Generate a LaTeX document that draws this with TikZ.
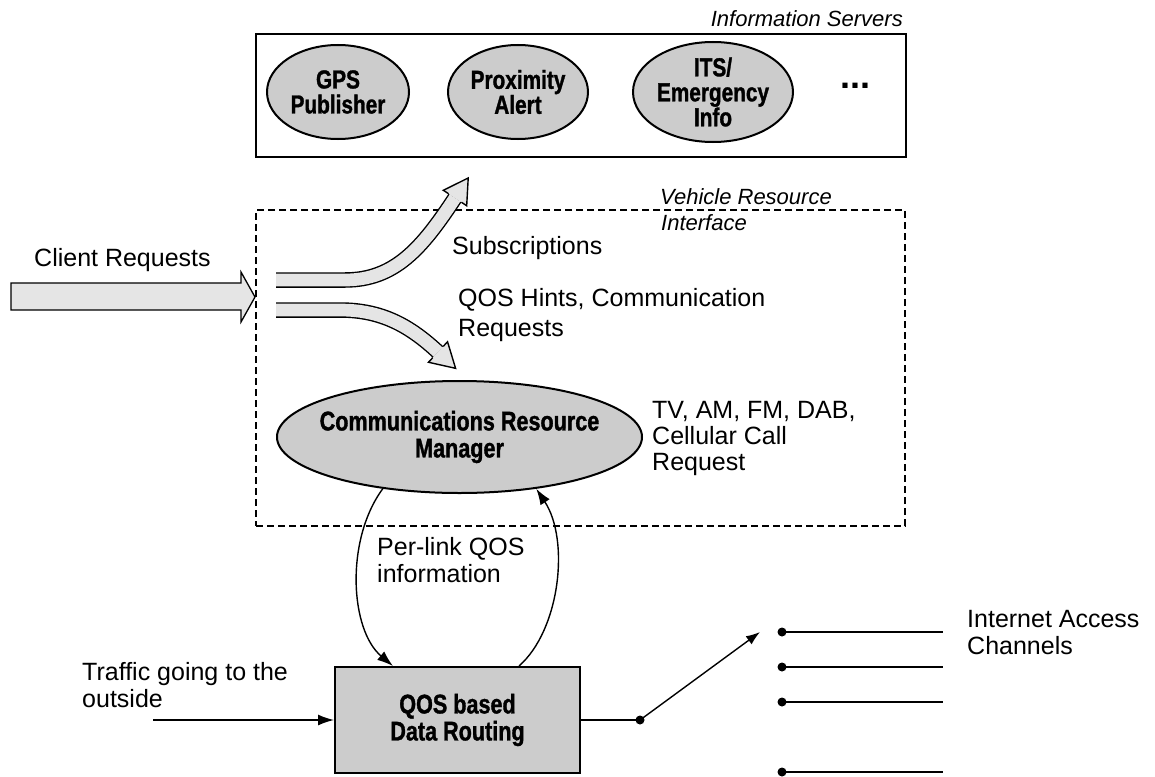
\documentclass[tikz,border=0pt]{standalone}
\usepackage{fontspec}
\setmainfont{Liberation Sans}
\newfontfamily\condfont{Liberation Sans}[FakeStretch=0.8, BoldFeatures={FakeBold=1.2}]
\usetikzlibrary{arrows.meta,calc,shapes.geometric}
\definecolor{shade}{gray}{0.80}
\definecolor{arrowfill}{gray}{0.90}
\begin{document}
\begin{tikzpicture}[x=1pt,y=-1pt,
  lbl/.style={font=\fontsize{25}{27}\selectfont, align=left, inner sep=0pt},
  ital/.style={font=\fontsize{22}{25}\selectfont\itshape, inner sep=0pt},
  boldtxt/.style={font=\condfont\bfseries\fontsize{27}{27}\selectfont, align=center},
  server/.style={ellipse, draw, line width=2pt, fill=shade, inner sep=0pt, boldtxt},
  frame/.style={draw, line width=2pt, inner sep=0pt},
  dashframe/.style={draw, line width=2pt, dash pattern=on 7pt off 4pt, inner sep=0pt},
  flow/.style={line width=1.4pt, -{Latex[length=16pt,width=11pt]}},
  wire/.style={line width=1.4pt},
  blk/.style={fill=arrowfill, draw, line width=1.3pt, line join=miter},
  dot/.style={circle, fill, inner sep=0pt, minimum size=9pt},
]
\useasboundingbox (0,0) rectangle (1155,776);

% ---- information servers ----
\node[frame, minimum width=650pt, minimum height=123pt, anchor=north west] (servers) at (255,33) {};
\node[ital, anchor=base east] (servlbl) at (903,27) {Information Servers};
\node[server, minimum width=142pt, minimum height=94pt, font=\condfont\bfseries\fontsize{26}{25}\selectfont] (gps) at (338,92) {GPS\\Publisher};
\node[server, minimum width=140pt, minimum height=94pt, font=\condfont\bfseries\fontsize{26}{25}\selectfont] (prox) at (518,92) {Proximity\\Alert};
\node[server, minimum width=160pt, minimum height=100pt, font=\condfont\bfseries\fontsize{26}{25}\selectfont] (its) at (713,92) {ITS/\\Emergency\\Info};
\node[font=\bfseries\fontsize{36}{36}\selectfont] (more) at (855,86) {...};

% ---- vehicle resource interface ----
\node[dashframe, minimum width=649pt, minimum height=316pt, anchor=north west] (vri) at (255,209) {};
\node[ital, anchor=base west] (vrilbl) at (660,204) {Vehicle Resource};
\node[ital, anchor=base west] (vrilbl2) at (661,230) {Interface};

% client requests (block arrow)
\node[lbl, anchor=west] (clientlbl) at (34,260) {Client Requests};
\draw[blk] (11,283) -- (241,283) -- (241,272) -- (255,297) -- (241,322) -- (241,310) -- (11,310) -- cycle;

% subscriptions (hollow curved arrow going up)
\coordinate (s0) at (276,280);
\coordinate (s1) at (345,280);
\coordinate (sc1) at (395,280);
\coordinate (sc2) at (422,248);
\coordinate (send) at (455,198);
\draw[line width=15.5pt] (s0) -- (s1) .. controls (sc1) and (sc2) .. (send);
\draw[line width=12.7pt, arrowfill] (s0) -- (s1) .. controls (sc1) and (sc2) .. (send);
\coordinate (sL) at ($(send)!14pt!90:(sc2)$);
\coordinate (sR) at ($(send)!14pt!-90:(sc2)$);
\coordinate (sbL) at ($(send)!7.75pt!90:(sc2)$);
\coordinate (sbR) at ($(send)!7.75pt!-90:(sc2)$);
\coordinate (sTip) at ($(send)!-24pt!(sc2)$);
\fill[arrowfill] (sL) -- (sTip) -- (sR) -- cycle;
\draw[line width=1.4pt, line join=miter] (sbL) -- (sL) -- (sTip) -- (sR) -- (sbR);
\node[lbl, anchor=west] (sublbl) at (452,248) {Subscriptions};

% hints and requests (hollow curved arrow going down)
\coordinate (t0) at (276,310);
\coordinate (t1) at (340,310);
\coordinate (tc1) at (382,310);
\coordinate (tc2) at (410,326);
\coordinate (tend) at (438,352);
\draw[line width=15.5pt] (t0) -- (t1) .. controls (tc1) and (tc2) .. (tend);
\draw[line width=12.7pt, arrowfill] (t0) -- (t1) .. controls (tc1) and (tc2) .. (tend);
\coordinate (tL) at ($(tend)!14pt!90:(tc2)$);
\coordinate (tR) at ($(tend)!14pt!-90:(tc2)$);
\coordinate (tbL) at ($(tend)!7.75pt!90:(tc2)$);
\coordinate (tbR) at ($(tend)!7.75pt!-90:(tc2)$);
\coordinate (tTip) at ($(tend)!-24pt!(tc2)$);
\fill[arrowfill] (tL) -- (tTip) -- (tR) -- cycle;
\draw[line width=1.4pt, line join=miter] (tbL) -- (tL) -- (tTip) -- (tR) -- (tbR);
\node[lbl, anchor=west, font=\fontsize{25}{30}\selectfont] (hintlbl) at (458,315) {QOS Hints, Communication\\Requests};

% communications resource manager (shape sized by hand, text placed on top)
\node[ellipse, draw, line width=2pt, fill=shade, inner sep=0pt, minimum width=365pt, minimum height=112pt] (crm) at (459.5,437) {};
\node[boldtxt] (crmtxt) at (crm.center) {Communications Resource\\Manager};
\node[lbl, anchor=west, font=\fontsize{25}{26}\selectfont] (bands) at (652,438) {TV, AM, FM, DAB,\\Cellular Call\\Request};

% ---- data routing ----
\node[draw, line width=2pt, fill=shade, minimum width=245pt, minimum height=106pt, boldtxt] (qos) at (457.5,720) {QOS based\\Data Routing};

\draw[flow] (crm.-146) .. controls (345,540) and (350,630) .. ($(qos.north west)+(59,0)$);
\draw[flow] ($(qos.north west)+(185,0)$) .. controls (560,630) and (570,540) .. (crm.-34);
\node[lbl, anchor=west] (perlink) at (377,560) {Per-link QOS\\information};

\node[lbl, anchor=west] (traffic) at (82,685) {Traffic going to the\\outside};
\coordinate (trafficin) at (153,720);
\draw[flow] (trafficin) -- (qos.west);

% channel switch
\node[dot] (sw) at (640,720) {};
\draw[wire] (qos.east) -- (sw.center);
\coordinate (armtip) at (760,632);
\draw[line width=1.4pt, -{Latex[length=14pt,width=10pt]}] (sw.center) -- (armtip);

\node[dot] (ch1) at (782,632) {};
\node[dot] (ch2) at (782,667) {};
\node[dot] (ch3) at (782,702) {};
\node[dot] (ch4) at (782,772) {};
\coordinate (e1) at (943,632);
\coordinate (e2) at (943,667);
\coordinate (e3) at (943,702);
\coordinate (e4) at (943,772);
\draw[wire] (ch1.center) -- (e1);
\draw[wire] (ch2.center) -- (e2);
\draw[wire] (ch3.center) -- (e3);
\draw[wire] (ch4.center) -- (e4);
\node[lbl, anchor=west] (chanlbl) at (967,633) {Internet Access\\Channels};
\end{tikzpicture}
\end{document}
